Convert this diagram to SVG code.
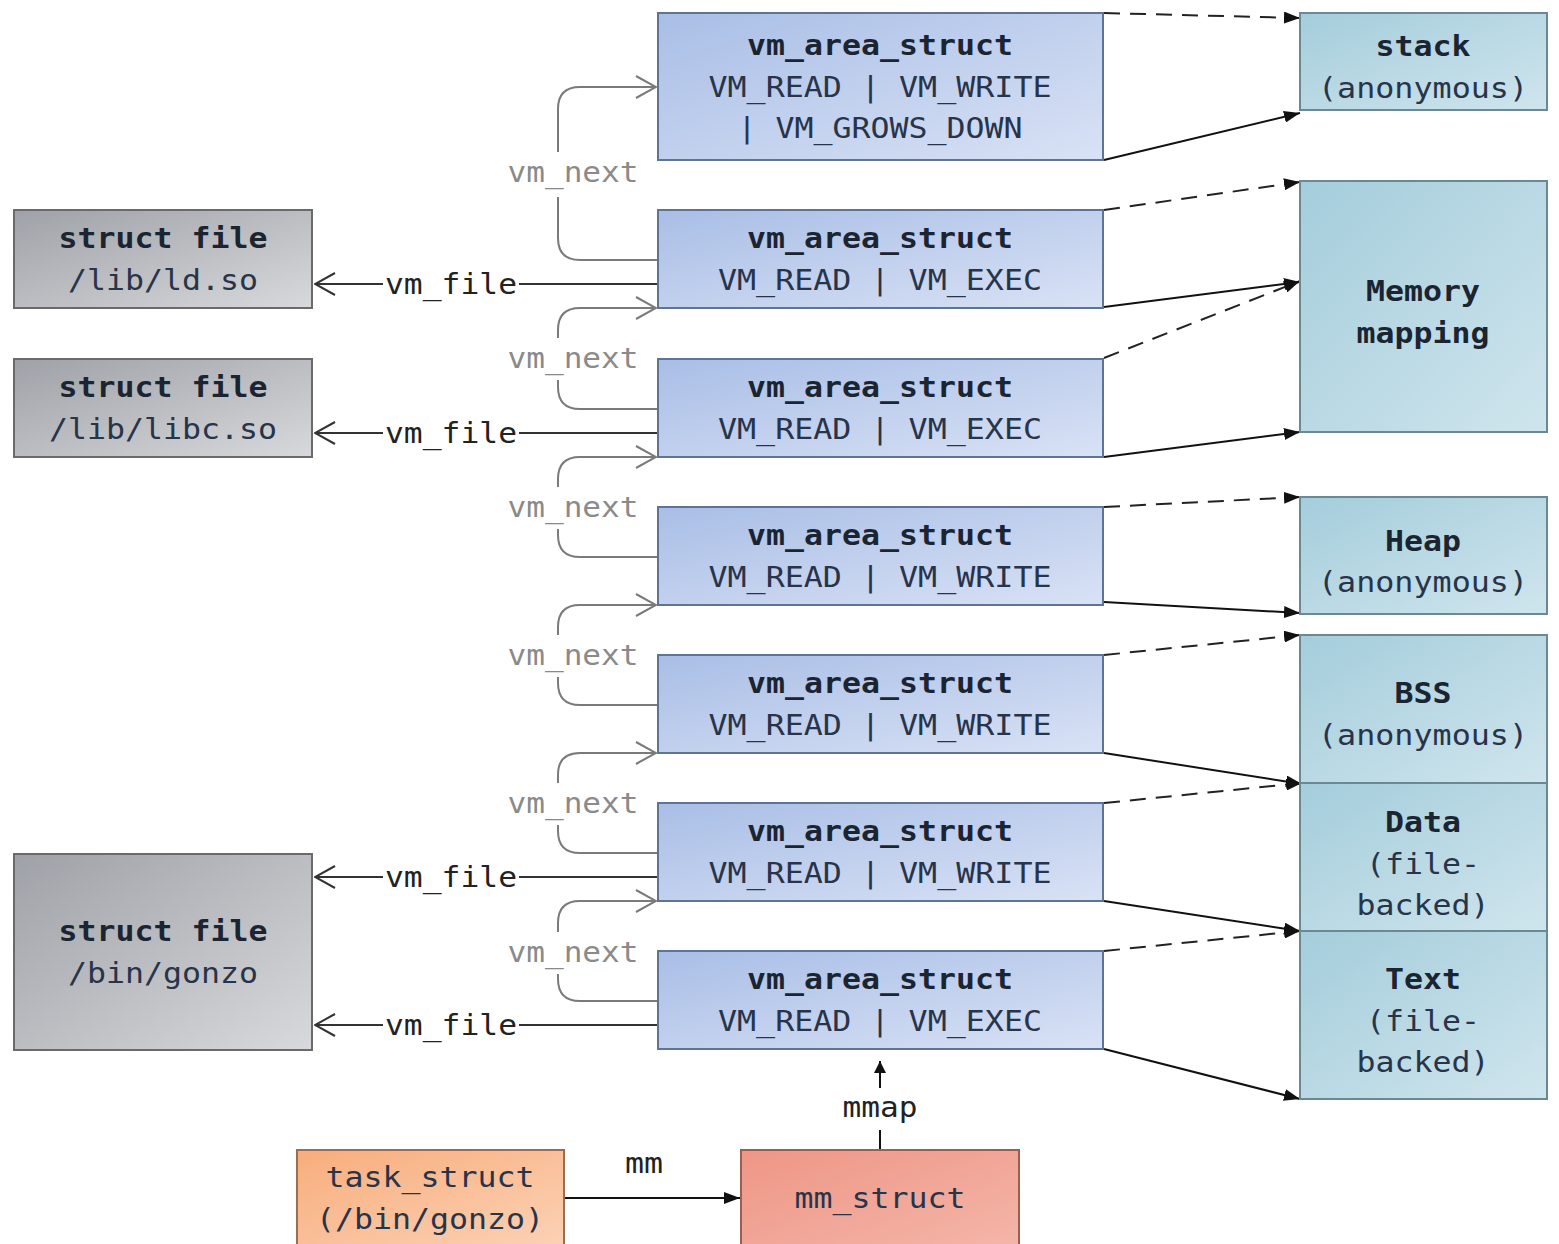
<svg xmlns="http://www.w3.org/2000/svg" width="1559" height="1244" viewBox="0 0 1559 1244">
  <defs>
    <linearGradient id="gVma" x1="0" y1="0" x2="1" y2="1">
      <stop offset="0" stop-color="#a9bee6"/>
      <stop offset="1" stop-color="#d9e2f5"/>
    </linearGradient>
    <linearGradient id="gMem" x1="0" y1="0" x2="1" y2="1">
      <stop offset="0" stop-color="#a4cddb"/>
      <stop offset="1" stop-color="#cfe5ed"/>
    </linearGradient>
    <linearGradient id="gFile" x1="0" y1="0" x2="1" y2="1">
      <stop offset="0" stop-color="#9ea1a7"/>
      <stop offset="1" stop-color="#d8d9dc"/>
    </linearGradient>
    <linearGradient id="gTask" x1="0" y1="0" x2="1" y2="1">
      <stop offset="0" stop-color="#f8ad7c"/>
      <stop offset="1" stop-color="#fcd2b6"/>
    </linearGradient>
    <linearGradient id="gMm" x1="0" y1="0" x2="1" y2="1">
      <stop offset="0" stop-color="#ee9686"/>
      <stop offset="1" stop-color="#f4b6a9"/>
    </linearGradient>
    <marker id="tri" viewBox="0 0 16 12" refX="16" refY="6" markerWidth="16" markerHeight="12" markerUnits="userSpaceOnUse" orient="auto">
      <path d="M0,0 L16,6 L0,12 Z" fill="#111"/>
    </marker>
    <marker id="triS" viewBox="0 0 12 12" refX="12" refY="6" markerWidth="12" markerHeight="12" markerUnits="userSpaceOnUse" orient="auto">
      <path d="M0,0 L12,6 L0,12 Z" fill="#111"/>
    </marker>
    <marker id="chevL" viewBox="0 0 22 24" refX="21" refY="12" markerWidth="22" markerHeight="24" markerUnits="userSpaceOnUse" orient="auto">
      <path d="M1,1 L21,12 L1,23" fill="none" stroke="#333" stroke-width="2"/>
    </marker>
    <marker id="chevG" viewBox="0 0 22 24" refX="21" refY="12" markerWidth="22" markerHeight="24" markerUnits="userSpaceOnUse" orient="auto">
      <path d="M1,1 L21,12 L1,23" fill="none" stroke="#7a7a7a" stroke-width="2"/>
    </marker>
  </defs>
  <style>
    text { font-family: "DejaVu Sans Mono", "Liberation Mono", monospace; font-size: 29px; text-anchor: middle; fill: #27344a; }
    .b { font-weight: bold; fill: #1b2431; }
    .lbl { fill: #222; }
    .nx { fill: #8a8a8a; }
    .vma { fill: url(#gVma); stroke: #5f7395; stroke-width: 2; }
    .mem { fill: url(#gMem); stroke: #6b8893; stroke-width: 2; }
    .file { fill: url(#gFile); stroke: #6a6a6a; stroke-width: 2; }
    .task { fill: url(#gTask); stroke: #9a6e52; stroke-width: 2; }
    .mm { fill: url(#gMm); stroke: #9a5e55; stroke-width: 2; }
    .nextln { fill: none; stroke: #7a7a7a; stroke-width: 2; }
    .fileln { fill: none; stroke: #333; stroke-width: 2; }
    .solid { fill: none; stroke: #111; stroke-width: 2; marker-end: url(#tri); }
    .dash { fill: none; stroke: #222; stroke-width: 2; stroke-dasharray: 16 10; marker-end: url(#tri); }
  </style>
  <rect width="1559" height="1244" fill="#ffffff"/>

  <!-- connectors -->
  <g id="connectors">
    <!-- vm_next chain -->
    <path class="nextln" d="M658,260 H580 Q558,260 558,238 V197 M558,152 V109 Q558,87 580,87 H656" marker-end="url(#chevG)"/>
    <path class="nextln" d="M658,409 H580 Q558,409 558,387 V380 M558,338 V330 Q558,308 580,308 H656" marker-end="url(#chevG)"/>
    <path class="nextln" d="M658,557 H580 Q558,557 558,535 V529 M558,487 V479 Q558,457 580,457 H656" marker-end="url(#chevG)"/>
    <path class="nextln" d="M658,705 H580 Q558,705 558,683 V677 M558,635 V627 Q558,605 580,605 H656" marker-end="url(#chevG)"/>
    <path class="nextln" d="M658,853 H580 Q558,853 558,831 V825 M558,783 V775 Q558,753 580,753 H656" marker-end="url(#chevG)"/>
    <path class="nextln" d="M658,1001 H580 Q558,1001 558,979 V974 M558,932 V923 Q558,901 580,901 H656" marker-end="url(#chevG)"/>

    <!-- vm_file pointers -->
    <path class="fileln" d="M658,284 H519"/>
    <path class="fileln" d="M383,284 H315" marker-end="url(#chevL)"/>
    <path class="fileln" d="M658,433 H519"/>
    <path class="fileln" d="M383,433 H315" marker-end="url(#chevL)"/>
    <path class="fileln" d="M658,877 H519"/>
    <path class="fileln" d="M383,877 H315" marker-end="url(#chevL)"/>
    <path class="fileln" d="M658,1025 H519"/>
    <path class="fileln" d="M383,1025 H315" marker-end="url(#chevL)"/>

    <!-- area start / end into the address space -->
    <path class="dash" d="M1104,13 L1300,18"/>
    <path class="solid" d="M1104,160 L1300,113"/>
    <path class="dash" d="M1104,210 L1300,182"/>
    <path class="solid" d="M1104,307 L1300,282"/>
    <path class="dash" d="M1104,358 L1300,281"/>
    <path class="solid" d="M1104,457 L1300,432"/>
    <path class="dash" d="M1104,507 L1300,497"/>
    <path class="solid" d="M1104,602 L1300,613"/>
    <path class="dash" d="M1104,655 L1300,635"/>
    <path class="solid" d="M1104,753 L1302,784"/>
    <path class="dash" d="M1104,803 L1302,783"/>
    <path class="solid" d="M1104,901 L1300,931"/>
    <path class="dash" d="M1104,951 L1300,931"/>
    <path class="solid" d="M1104,1049 L1300,1099"/>

    <!-- task -> mm -> mmap -->
    <path class="solid" d="M564,1198 H740"/>
    <path fill="none" stroke="#111" stroke-width="2" d="M880,1150 V1130"/>
    <path fill="none" stroke="#111" stroke-width="2" marker-end="url(#triS)" d="M880,1088 V1061"/>

    <!-- labels -->
    <text class="nx" x="573" y="182" textLength="131" lengthAdjust="spacingAndGlyphs">vm_next</text>
    <text class="nx" x="573" y="368" textLength="131" lengthAdjust="spacingAndGlyphs">vm_next</text>
    <text class="nx" x="573" y="517" textLength="131" lengthAdjust="spacingAndGlyphs">vm_next</text>
    <text class="nx" x="573" y="665" textLength="131" lengthAdjust="spacingAndGlyphs">vm_next</text>
    <text class="nx" x="573" y="813" textLength="131" lengthAdjust="spacingAndGlyphs">vm_next</text>
    <text class="nx" x="573" y="962" textLength="131" lengthAdjust="spacingAndGlyphs">vm_next</text>
    <text class="lbl" x="451" y="294" textLength="132" lengthAdjust="spacingAndGlyphs">vm_file</text>
    <text class="lbl" x="451" y="443" textLength="132" lengthAdjust="spacingAndGlyphs">vm_file</text>
    <text class="lbl" x="451" y="887" textLength="132" lengthAdjust="spacingAndGlyphs">vm_file</text>
    <text class="lbl" x="451" y="1035" textLength="132" lengthAdjust="spacingAndGlyphs">vm_file</text>
    <text class="lbl" x="644" y="1173" font-size="24" textLength="38" lengthAdjust="spacingAndGlyphs">mm</text>
    <text class="lbl" x="880" y="1117" font-size="26" textLength="75" lengthAdjust="spacingAndGlyphs">mmap</text>
  </g>

  <!-- vm_area_struct list -->
  <g id="vma-stack">
    <rect class="vma" x="658" y="13" width="445" height="147"/>
    <text class="b" x="880" y="55" textLength="266" lengthAdjust="spacingAndGlyphs">vm_area_struct</text>
    <text x="880" y="97" textLength="343" lengthAdjust="spacingAndGlyphs">VM_READ | VM_WRITE</text>
    <text x="880" y="138" textLength="285" lengthAdjust="spacingAndGlyphs">| VM_GROWS_DOWN</text>
  </g>
  <g id="vma-ld">
    <rect class="vma" x="658" y="210" width="445" height="98"/>
    <text class="b" x="880" y="248" textLength="266" lengthAdjust="spacingAndGlyphs">vm_area_struct</text>
    <text x="880" y="290" textLength="324" lengthAdjust="spacingAndGlyphs">VM_READ | VM_EXEC</text>
  </g>
  <g id="vma-libc">
    <rect class="vma" x="658" y="359" width="445" height="98"/>
    <text class="b" x="880" y="397" textLength="266" lengthAdjust="spacingAndGlyphs">vm_area_struct</text>
    <text x="880" y="439" textLength="324" lengthAdjust="spacingAndGlyphs">VM_READ | VM_EXEC</text>
  </g>
  <g id="vma-heap">
    <rect class="vma" x="658" y="507" width="445" height="98"/>
    <text class="b" x="880" y="545" textLength="266" lengthAdjust="spacingAndGlyphs">vm_area_struct</text>
    <text x="880" y="587" textLength="343" lengthAdjust="spacingAndGlyphs">VM_READ | VM_WRITE</text>
  </g>
  <g id="vma-bss">
    <rect class="vma" x="658" y="655" width="445" height="98"/>
    <text class="b" x="880" y="693" textLength="266" lengthAdjust="spacingAndGlyphs">vm_area_struct</text>
    <text x="880" y="735" textLength="343" lengthAdjust="spacingAndGlyphs">VM_READ | VM_WRITE</text>
  </g>
  <g id="vma-data">
    <rect class="vma" x="658" y="803" width="445" height="98"/>
    <text class="b" x="880" y="841" textLength="266" lengthAdjust="spacingAndGlyphs">vm_area_struct</text>
    <text x="880" y="883" textLength="343" lengthAdjust="spacingAndGlyphs">VM_READ | VM_WRITE</text>
  </g>
  <g id="vma-text">
    <rect class="vma" x="658" y="951" width="445" height="98"/>
    <text class="b" x="880" y="989" textLength="266" lengthAdjust="spacingAndGlyphs">vm_area_struct</text>
    <text x="880" y="1031" textLength="324" lengthAdjust="spacingAndGlyphs">VM_READ | VM_EXEC</text>
  </g>

  <!-- address space regions -->
  <g id="mem-stack">
    <rect class="mem" x="1300" y="13" width="247" height="97"/>
    <text class="b" x="1423" y="56" textLength="95" lengthAdjust="spacingAndGlyphs">stack</text>
    <text x="1423" y="98" textLength="210" lengthAdjust="spacingAndGlyphs">(anonymous)</text>
  </g>
  <g id="mem-mmap">
    <rect class="mem" x="1300" y="181" width="247" height="251"/>
    <text class="b" x="1423" y="301" textLength="114" lengthAdjust="spacingAndGlyphs">Memory</text>
    <text class="b" x="1423" y="343" textLength="133" lengthAdjust="spacingAndGlyphs">mapping</text>
  </g>
  <g id="mem-heap">
    <rect class="mem" x="1300" y="497" width="247" height="117"/>
    <text class="b" x="1423" y="551" textLength="76" lengthAdjust="spacingAndGlyphs">Heap</text>
    <text x="1423" y="592" textLength="210" lengthAdjust="spacingAndGlyphs">(anonymous)</text>
  </g>
  <g id="mem-bss">
    <rect class="mem" x="1300" y="635" width="247" height="148"/>
    <text class="b" x="1423" y="703" textLength="57" lengthAdjust="spacingAndGlyphs">BSS</text>
    <text x="1423" y="745" textLength="210" lengthAdjust="spacingAndGlyphs">(anonymous)</text>
  </g>
  <g id="mem-data">
    <rect class="mem" x="1300" y="783" width="247" height="148"/>
    <text class="b" x="1423" y="832" textLength="76" lengthAdjust="spacingAndGlyphs">Data</text>
    <text x="1423" y="874" textLength="114" lengthAdjust="spacingAndGlyphs">(file-</text>
    <text x="1423" y="915" textLength="133" lengthAdjust="spacingAndGlyphs">backed)</text>
  </g>
  <g id="mem-text">
    <rect class="mem" x="1300" y="931" width="247" height="168"/>
    <text class="b" x="1423" y="989" textLength="76" lengthAdjust="spacingAndGlyphs">Text</text>
    <text x="1423" y="1031" textLength="114" lengthAdjust="spacingAndGlyphs">(file-</text>
    <text x="1423" y="1072" textLength="133" lengthAdjust="spacingAndGlyphs">backed)</text>
  </g>

  <!-- backing files -->
  <g id="file-ld">
    <rect class="file" x="14" y="210" width="298" height="98"/>
    <text class="b" x="163" y="248" textLength="209" lengthAdjust="spacingAndGlyphs">struct file</text>
    <text x="163" y="290" textLength="190" lengthAdjust="spacingAndGlyphs">/lib/ld.so</text>
  </g>
  <g id="file-libc">
    <rect class="file" x="14" y="359" width="298" height="98"/>
    <text class="b" x="163" y="397" textLength="209" lengthAdjust="spacingAndGlyphs">struct file</text>
    <text x="163" y="439" textLength="228" lengthAdjust="spacingAndGlyphs">/lib/libc.so</text>
  </g>
  <g id="file-gonzo">
    <rect class="file" x="14" y="854" width="298" height="196"/>
    <text class="b" x="163" y="941" textLength="209" lengthAdjust="spacingAndGlyphs">struct file</text>
    <text x="163" y="983" textLength="190" lengthAdjust="spacingAndGlyphs">/bin/gonzo</text>
  </g>

  <!-- process descriptors -->
  <g id="task-struct">
    <rect class="task" x="297" y="1150" width="267" height="100"/>
    <text x="430" y="1187" textLength="209" lengthAdjust="spacingAndGlyphs">task_struct</text>
    <text x="430" y="1229" textLength="228" lengthAdjust="spacingAndGlyphs">(/bin/gonzo)</text>
  </g>
  <g id="mm-struct">
    <rect class="mm" x="741" y="1150" width="278" height="100"/>
    <text x="880" y="1208" textLength="171" lengthAdjust="spacingAndGlyphs">mm_struct</text>
  </g>
</svg>
